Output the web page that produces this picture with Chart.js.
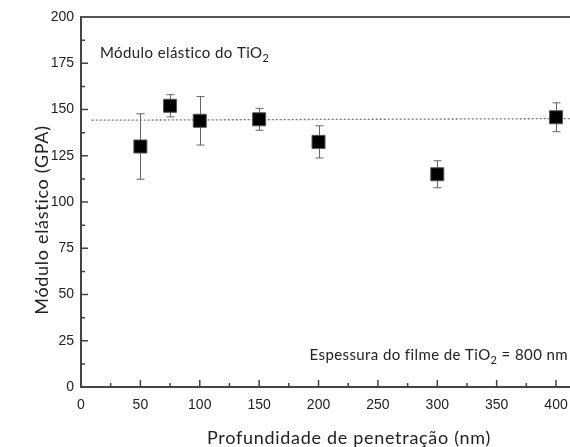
<!DOCTYPE html>
<html>
<head>
<meta charset="utf-8">
<script src="https://cdn.jsdelivr.net/npm/chart.js@4"></script>
<style>
  html, body { margin: 0; padding: 0; background: #fff; overflow: hidden; }
  #wrap { position: relative; width: 590px; height: 447px; }
</style>
</head>
<body>
<div id="wrap"><canvas id="modulo"></canvas></div>
<script>
// profundidade de penetração (nm) e módulo elástico (GPa)
const profundidade = [50, 75, 100, 150, 200, 300, 400];
const modulo = [130, 152, 143.9, 144.7, 132.5, 115, 145.8];
const erro = [17.7, 6, 13.1, 5.9, 8.7, 7.3, 7.8];
// reta de ajuste (pontilhada)
const ajusteX = [9, 420];
const ajusteY = [144.2, 145.1];
const yTicks = [0, 25, 50, 75, 100, 125, 150, 175, 200];
const xTicks = [0, 50, 100, 150, 200, 250, 300, 350, 400];

const axisColor = '#444';
const textColor = '#222';

function drawSub(ctx, main, sub, after, x, y, size, align) {
  ctx.letterSpacing = '0.4px';
  ctx.font = size + 'px Lato';
  const subFont = Math.round(size * 0.7) + 'px Lato';
  const w1 = ctx.measureText(main).width;
  ctx.font = subFont;
  const w2 = ctx.measureText(sub).width;
  ctx.font = size + 'px Lato';
  const w3 = ctx.measureText(after).width;
  const total = w1 + w2 + w3;
  let x0 = align === 'right' ? x - total : x;
  ctx.textAlign = 'left';
  ctx.textBaseline = 'alphabetic';
  ctx.fillText(main, x0, y);
  ctx.font = subFont;
  ctx.fillText(sub, x0 + w1, y + size * 0.25);
  ctx.font = size + 'px Lato';
  ctx.fillText(after, x0 + w1 + w2, y);
  ctx.letterSpacing = '0px';
}

const extras = {
  id: 'extras',
  beforeDatasetsDraw(chart) {
    const ctx = chart.ctx;
    const xs = chart.scales.x, ys = chart.scales.y;
    const area = chart.chartArea;
    ctx.save();
    // barras de erro
    ctx.strokeStyle = '#666';
    ctx.lineWidth = 1;
    profundidade.forEach((p, i) => {
      const px = Math.round(xs.getPixelForValue(p)) + 0.5;
      const top = ys.getPixelForValue(modulo[i] + erro[i]);
      const bot = ys.getPixelForValue(modulo[i] - erro[i]);
      ctx.beginPath();
      ctx.moveTo(px, top); ctx.lineTo(px, bot);
      ctx.moveTo(px - 4, top); ctx.lineTo(px + 4, top);
      ctx.moveTo(px - 4, bot); ctx.lineTo(px + 4, bot);
      ctx.stroke();
    });
    // marcas para dentro dos eixos
    ctx.strokeStyle = axisColor;
    ctx.lineWidth = 1.5;
    ctx.beginPath();
    for (let v = 0; v <= 200; v += 12.5) {
      const py = ys.getPixelForValue(v);
      const len = v % 25 === 0 ? 7 : 4;
      ctx.moveTo(area.left, py); ctx.lineTo(area.left + len, py);
    }
    for (let v = 0; v <= 400; v += 25) {
      const px = xs.getPixelForValue(v);
      const len = v % 50 === 0 ? 7 : 4;
      ctx.moveTo(px, area.bottom); ctx.lineTo(px, area.bottom - len);
    }
    ctx.stroke();
    // borda superior
    ctx.strokeStyle = '#555';
    ctx.lineWidth = 2;
    ctx.beginPath();
    ctx.moveTo(area.left, area.top); ctx.lineTo(chart.width, area.top);
    ctx.stroke();
    ctx.restore();
  },
  afterDraw(chart) {
    const ctx = chart.ctx;
    ctx.save();
    ctx.fillStyle = textColor;
    // títulos dos eixos
    ctx.font = '18px Lato';
    ctx.letterSpacing = '0.7px';
    ctx.textAlign = 'center';
    ctx.textBaseline = 'alphabetic';
    ctx.fillText('Profundidade de penetração (nm)', 349, 444);
    ctx.save();
    ctx.translate(48, 220);
    ctx.rotate(-Math.PI / 2);
    ctx.fillText('Módulo elástico (GPA)', 0, 0);
    ctx.restore();
    ctx.letterSpacing = '0px';
    // anotações
    drawSub(ctx, 'Módulo elástico do TiO', '2', '', 100, 58, 15, 'left');
    drawSub(ctx, 'Espessura do filme de TiO', '2', ' = 800 nm', 568, 360, 15, 'right');
    ctx.restore();
  }
};

new Chart(document.getElementById('modulo'), {
  type: 'scatter',
  data: {
    datasets: [{
      label: 'Módulo elástico',
      data: profundidade.map((p, i) => ({ x: p, y: modulo[i] })),
      pointStyle: 'rect',
      pointRadius: 9.2,
      pointHoverRadius: 9.2,
      backgroundColor: '#000',
      borderColor: '#555',
      borderWidth: 1
    }, {
      label: 'Ajuste',
      type: 'line',
      data: ajusteX.map((x, i) => ({ x: x, y: ajusteY[i] })),
      borderColor: '#777',
      borderWidth: 1.3,
      borderDash: [2, 2],
      pointRadius: 0,
      fill: false
    }]
  },
  options: {
    responsive: true,
    maintainAspectRatio: false,
    animation: false,
    layout: { padding: { top: 17, right: 9, left: 0, bottom: 0 } },
    plugins: { legend: { display: false }, tooltip: { enabled: false } },
    scales: {
      x: {
        type: 'linear',
        min: 0,
        max: 420,
        afterFit(scale) { scale.height = 60; },
        afterBuildTicks(scale) { scale.ticks = xTicks.map(v => ({ value: v })); },
        grid: { display: false, drawTicks: false },
        border: { display: true, color: axisColor, width: 2 },
        ticks: { padding: 10, color: textColor, font: { family: 'Liberation Sans', size: 14 } }
      },
      y: {
        min: 0,
        max: 200,
        afterFit(scale) { scale.width = 81; },
        afterBuildTicks(scale) { scale.ticks = yTicks.map(v => ({ value: v })); },
        grid: { display: false, drawTicks: false },
        border: { display: true, color: axisColor, width: 2 },
        ticks: { padding: 7, color: textColor, font: { family: 'Liberation Sans', size: 14 } }
      }
    }
  },
  plugins: [extras]
});
</script>
</body>
</html>
